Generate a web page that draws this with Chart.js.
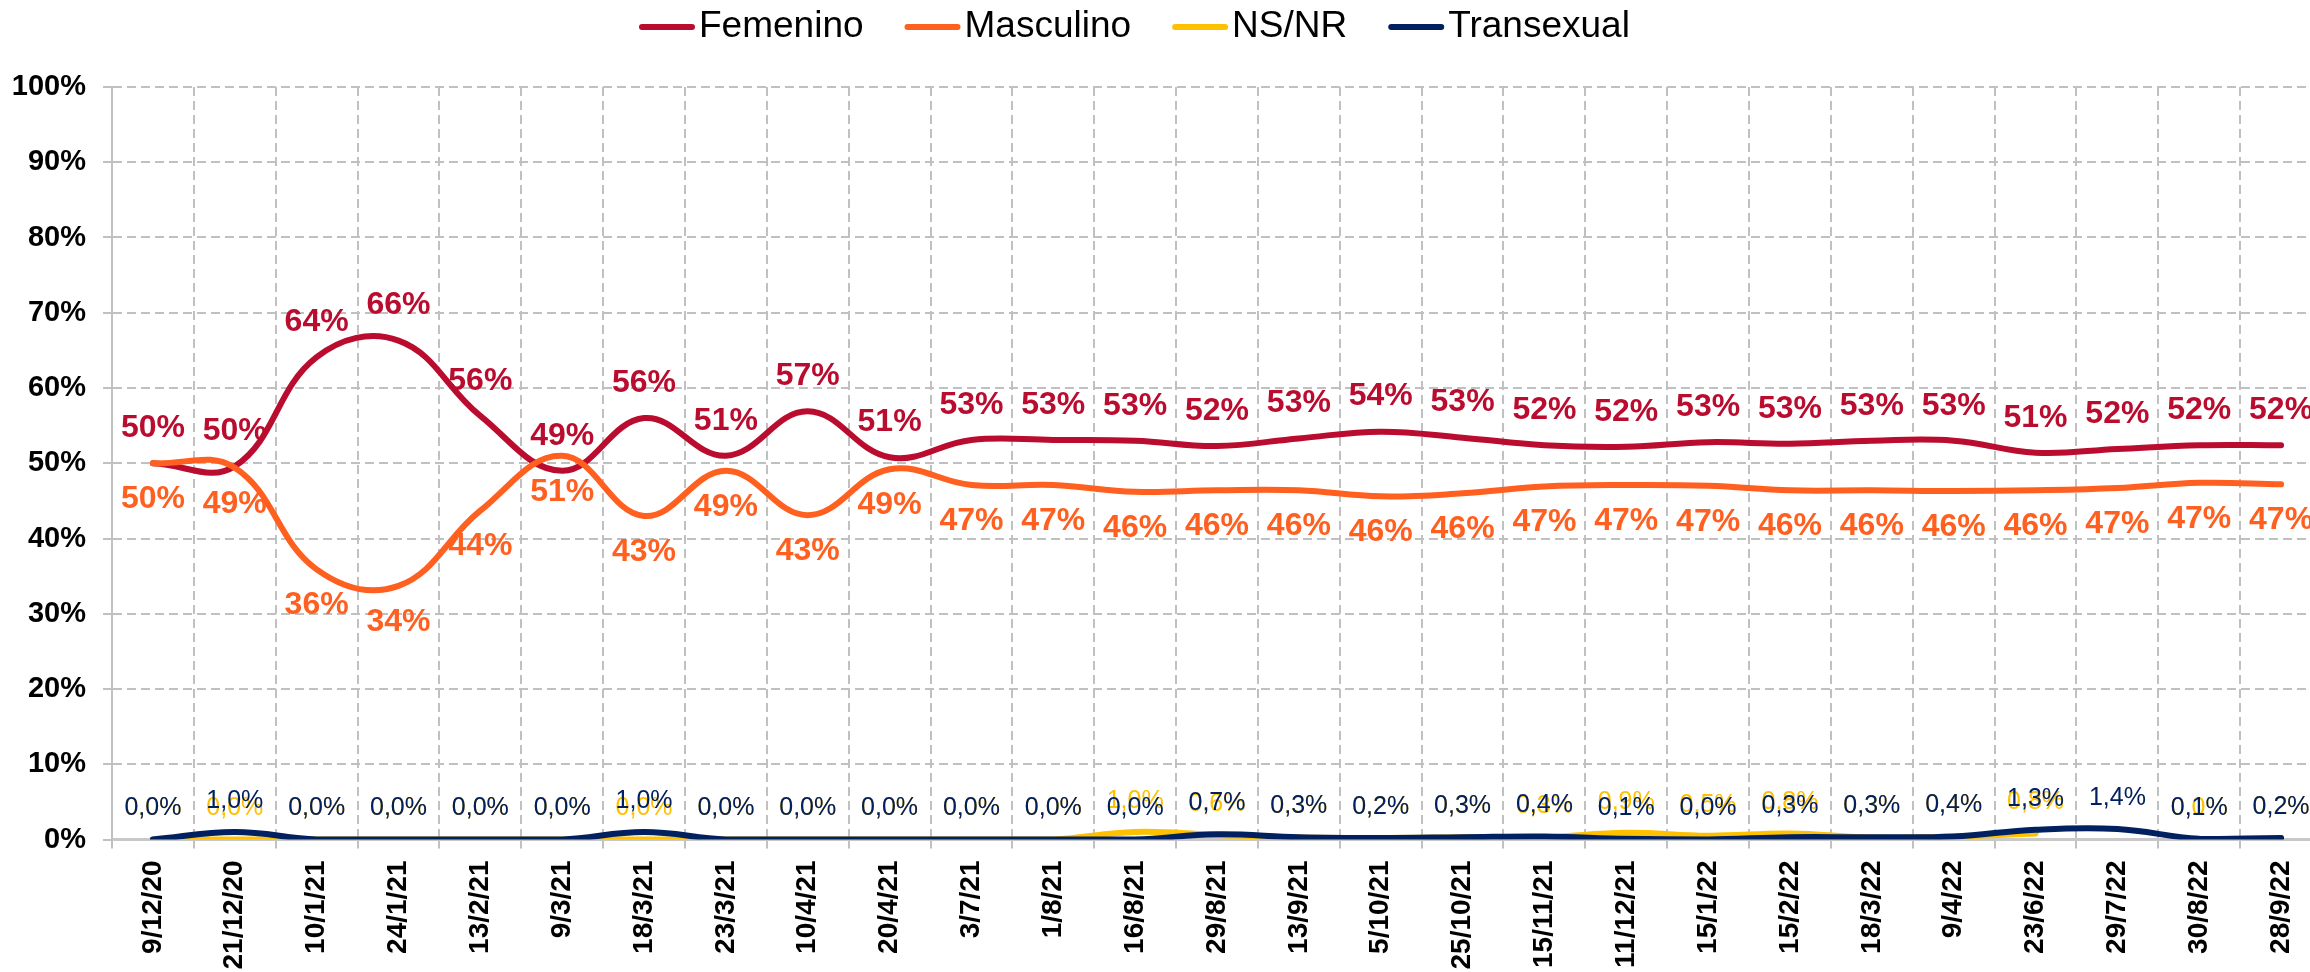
<!DOCTYPE html>
<html>
<head>
<meta charset="utf-8">
<script src="https://cdn.jsdelivr.net/npm/chart.js@4/dist/chart.umd.min.js"></script>
<style>
  html, body { margin: 0; padding: 0; background: #ffffff; }
  #wrap { width: 2310px; height: 972px; overflow: hidden; position: relative; }
  canvas { display: block; }
</style>
</head>
<body>
<div id="wrap"><canvas id="c" width="2340" height="972"></canvas></div>
<script>
// ---------- DATA ----------
const categories = ['9/12/20','21/12/20','10/1/21','24/1/21','13/2/21','9/3/21','18/3/21','23/3/21','10/4/21','20/4/21','3/7/21','1/8/21','16/8/21','29/8/21','13/9/21','5/10/21','25/10/21','15/11/21','11/12/21','15/1/22','15/2/22','18/3/22','9/4/22','23/6/22','29/7/22','30/8/22','28/9/22'];
const femenino   = [50.0,49.6,64.1,66.3,56.3,49.0,56.0,51.0,56.9,50.8,53.1,53.1,53.0,52.3,53.3,54.2,53.4,52.4,52.2,52.8,52.6,53.0,53.0,51.4,51.9,52.4,52.4];
const masculino  = [50.0,49.4,35.9,33.7,43.7,51.0,43.0,49.0,43.1,49.2,47.1,47.1,46.2,46.4,46.4,45.6,46.0,46.9,47.1,47.0,46.4,46.4,46.3,46.4,46.7,47.4,47.2];
const nsnr       = [0,0,0,0,0,0,0,0,0,0,0,0,1.0,0.6,0.26,0.2,0.3,0.3,0.9,0.5,0.8,0.26,0.4,0.8,null,0.0,0.2];
const transexual = [0,1.0,0,0,0,0,1.0,0,0,0,0,0,0,0.7,0.3,0.2,0.3,0.4,0.1,0.0,0.3,0.3,0.4,1.3,1.4,0.1,0.2];
const seriesNames = ['Femenino','Masculino','NS/NR','Transexual'];
const yTickValues = [0,10,20,30,40,50,60,70,80,90,100];

// ---------- STYLE ----------
const FONT = '"Liberation Sans", Arial, Helvetica, sans-serif';
const colors = ['#BA0C2F', '#FF5F1F', '#FFC000', '#002060'];
const fmtInt = v => Math.round(v) + '%';
const fmtDec = v => v.toFixed(1).replace('.', ',') + '%';
const labelStyles = [
  { font: 'bold 32px ' + FONT, dy: -35, fmt: fmtInt },
  { font: 'bold 32px ' + FONT, dy: 36,  fmt: fmtInt },
  { font: '25px ' + FONT,      dy: -31, fmt: fmtDec },
  { font: '25px ' + FONT,      dy: -31, fmt: fmtDec }
];

const valueLabels = {
  id: 'valueLabels',
  afterDatasetsDraw(chart) {
    const ctx = chart.ctx;
    chart.data.datasets.forEach((ds, di) => {
      const meta = chart.getDatasetMeta(di);
      const st = labelStyles[di];
      ctx.save();
      ctx.font = st.font;
      ctx.fillStyle = colors[di];
      ctx.textAlign = 'center';
      ctx.textBaseline = 'middle';
      meta.data.forEach((pt, i) => {
        const v = ds.data[i];
        if (v === null || v === undefined) return;
        ctx.fillText(st.fmt(v), pt.x, pt.y + st.dy);
      });
      ctx.restore();
    });
  }
};

const topLegend = {
  id: 'topLegend',
  afterDraw(chart) {
    const ctx = chart.ctx;
    ctx.save();
    ctx.font = '37px ' + FONT;
    ctx.textBaseline = 'middle';
    ctx.textAlign = 'left';
    let x = 639;
    const y = 27;
    chart.data.datasets.forEach((ds, di) => {
      ctx.strokeStyle = colors[di];
      ctx.lineWidth = 6;
      ctx.lineCap = 'round';
      ctx.beginPath();
      ctx.moveTo(x + 3, y);
      ctx.lineTo(x + 53, y);
      ctx.stroke();
      x += 60;
      ctx.fillStyle = '#000000';
      ctx.fillText(ds.label, x, y);
      x += ctx.measureText(ds.label).width + 41;
    });
    ctx.restore();
  }
};

const seriesData = [femenino, masculino, nsnr, transexual];
const datasets = seriesData.map((arr, i) => ({
  label: seriesNames[i],
  data: arr,
  borderColor: colors[i],
  backgroundColor: colors[i],
  borderWidth: 6,
  tension: 0.4,
  pointRadius: 0,
  pointHoverRadius: 0,
  fill: false,
  spanGaps: false,
  borderCapStyle: 'round',
  borderJoinStyle: 'round',
  order: 4 - i
}));

const gridColor = '#c0c0c0';

new Chart(document.getElementById('c'), {
  type: 'line',
  data: { labels: categories, datasets },
  options: {
    responsive: false,
    animation: false,
    devicePixelRatio: 1,
    events: [],
    layout: { padding: { top: 87, right: 18, left: 0, bottom: 0 } },
    plugins: { legend: { display: false }, tooltip: { enabled: false } },
    scales: {
      x: {
        type: 'category',
        offset: true,
        grid: {
          offset: true,
          color: gridColor,
          lineWidth: 2,
          drawTicks: true,
          tickLength: 9,
          borderDash: [9, 5]
        },
        border: { display: true, color: '#c8c8c8', width: 3, dash: [9, 5] },
        ticks: {
          autoSkip: false,
          minRotation: 90,
          maxRotation: 90,
          padding: 12,
          color: '#000000',
          font: { family: FONT, size: 28, weight: 'bold' }
        },
        afterFit: (scale) => { scale.height = 132.5; }
      },
      y: {
        min: 0,
        max: 100,
        afterBuildTicks: (scale) => { scale.ticks = yTickValues.map(v => ({ value: v })); },
        grid: {
          color: gridColor,
          lineWidth: 2,
          drawTicks: true,
          tickLength: 9,
          borderDash: [9, 5]
        },
        border: { display: true, color: '#c0c0c0', width: 2, dash: [9, 5] },
        ticks: {
          padding: 17,
          color: '#000000',
          font: { family: FONT, size: 29, weight: 'bold' },
          callback: (v) => v + '%'
        },
        afterFit: (scale) => { scale.width = 112; }
      }
    }
  },
  plugins: [valueLabels, topLegend]
});
</script>
</body>
</html>
